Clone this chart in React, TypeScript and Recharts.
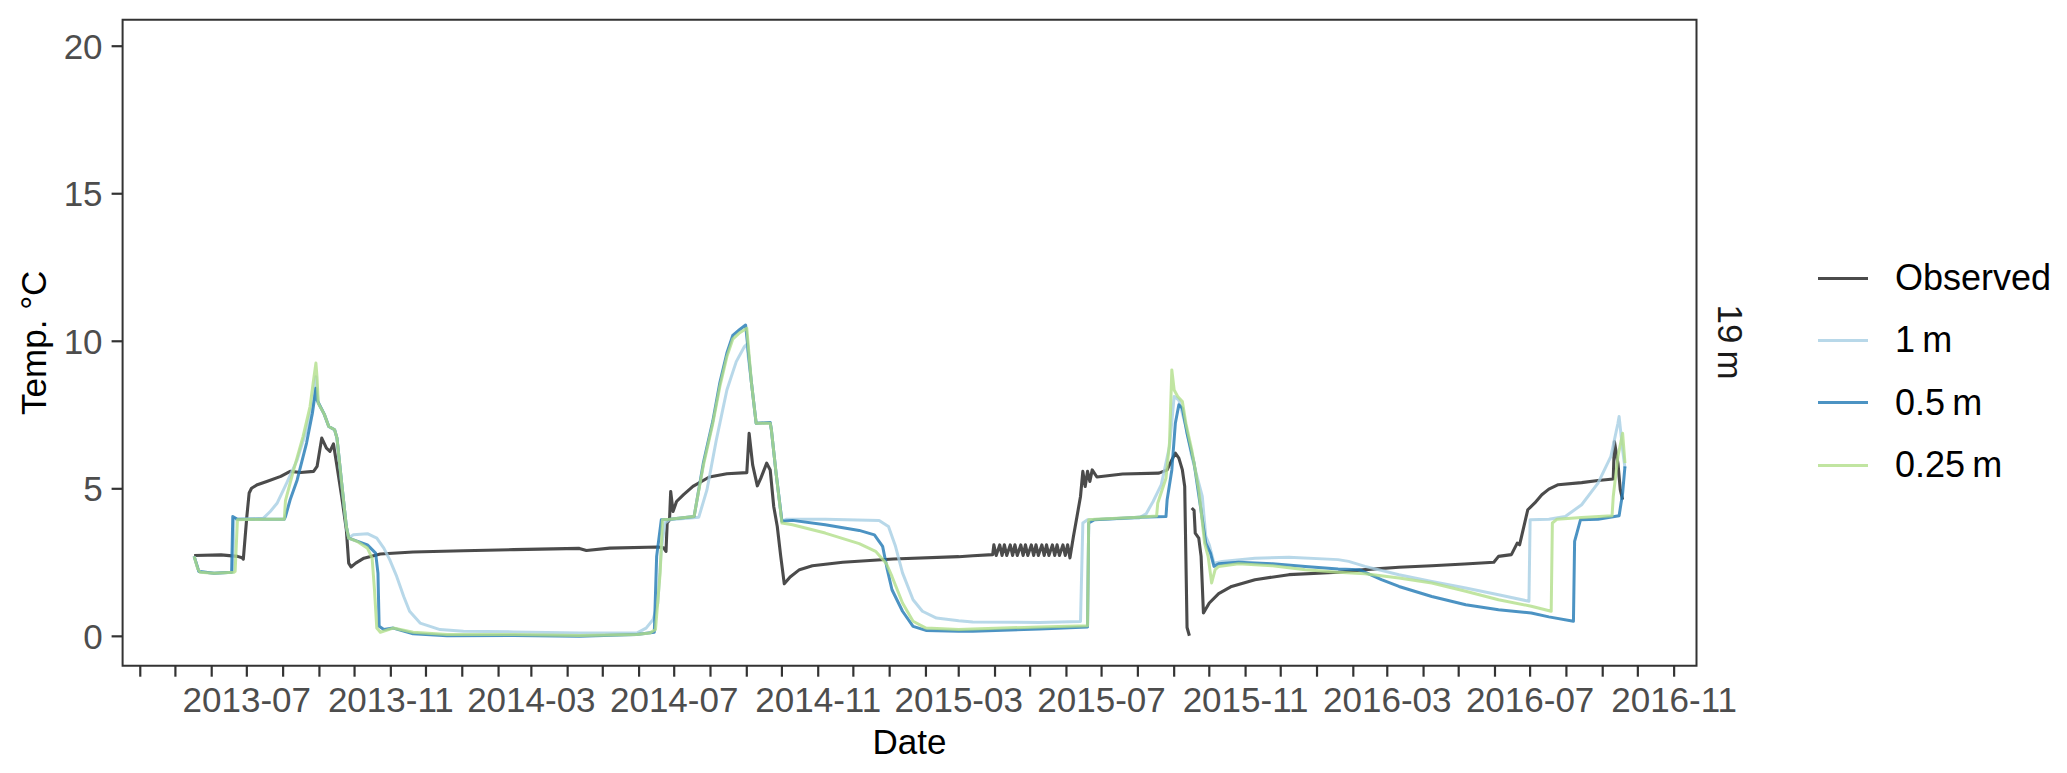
import React from 'react';
import { LineChart, Line, XAxis, YAxis, ReferenceArea } from 'recharts';

// ---------- data ----------
const obsDates = [
  '2013-05-17','2013-06-09','2013-06-23','2013-06-27','2013-06-28','2013-07-01','2013-07-03','2013-07-05','2013-07-10','2013-07-18',
  '2013-07-30','2013-08-07','2013-08-16','2013-08-27','2013-08-30','2013-09-03','2013-09-07','2013-09-10','2013-09-13','2013-09-16',
  '2013-09-20','2013-09-24','2013-09-26','2013-09-28','2013-10-02','2013-10-09','2013-10-23','2013-11-20','2014-01-02','2014-02-14',
  '2014-04-11','2014-04-17','2014-05-07','2014-06-17','2014-06-22','2014-06-24','2014-06-25','2014-06-27','2014-06-28','2014-06-30',
  '2014-07-03','2014-07-09','2014-07-17','2014-07-31','2014-08-15','2014-09-01','2014-09-03','2014-09-06','2014-09-10','2014-09-13',
  '2014-09-18','2014-09-21','2014-09-24','2014-09-27','2014-09-30','2014-10-03','2014-10-08','2014-10-16','2014-10-27','2014-11-22',
  '2015-01-04','2015-03-01','2015-03-13','2015-03-30',
  '2015-03-31','2015-04-02','2015-04-05','2015-04-07','2015-04-09','2015-04-11','2015-04-14','2015-04-16','2015-04-18','2015-04-20',
  '2015-04-23','2015-04-25','2015-04-27','2015-04-29','2015-05-02','2015-05-04','2015-05-06','2015-05-08','2015-05-11','2015-05-13',
  '2015-05-15','2015-05-17','2015-05-20','2015-05-22','2015-05-24','2015-05-26','2015-05-29','2015-05-31','2015-06-02','2015-06-04',
  '2015-06-07','2015-06-10','2015-06-13','2015-06-15','2015-06-17','2015-06-19','2015-06-21','2015-06-23','2015-06-27','2015-07-19',
  '2015-08-19','2015-08-26','2015-08-30','2015-09-02','2015-09-05','2015-09-08','2015-09-10','2015-09-12','2015-09-14','2015-09-15',
  '2015-09-16','2015-09-18','2015-09-19','2015-09-22','2015-09-24','2015-09-26','2015-10-01','2015-10-09','2015-10-20','2015-11-09',
  '2015-12-08','2016-01-19','2016-02-11','2016-03-11','2016-04-08','2016-05-06','2016-05-31','2016-06-04','2016-06-15','2016-06-20',
  '2016-06-22','2016-06-25','2016-06-29','2016-07-05','2016-07-11','2016-07-17','2016-07-25','2016-08-14','2016-08-28','2016-09-10',
  '2016-09-11','2016-09-14','2016-09-16','2016-09-18',
];
const obsTemps: (number | null)[] = [
  2.74, 2.76, 2.71, 2.66, 2.62, 4.06, 4.86, 5.02, 5.14, 5.25,
  5.42, 5.59, 5.55, 5.59, 5.76, 6.72, 6.38, 6.27, 6.52, 5.76,
  4.74, 3.61, 2.48, 2.35, 2.48, 2.65, 2.79, 2.86, 2.90, 2.94,
  2.98, 2.91, 2.99, 3.03, 3.00, 2.88, 3.84, 3.95, 4.91, 4.23,
  4.57, 4.80, 5.08, 5.40, 5.51, 5.55, 6.88, 5.81, 5.10, 5.36,
  5.87, 5.64, 4.40, 3.73, 2.71, 1.78, 2.01, 2.26, 2.39, 2.51,
  2.62, 2.70, 2.73, 2.77,
  3.10, 2.74, 3.10, 2.74, 3.10, 2.74, 3.10, 2.74, 3.10, 2.74,
  3.10, 2.74, 3.10, 2.74, 3.10, 2.74, 3.10, 2.74, 3.10, 2.74,
  3.10, 2.74, 3.10, 2.74, 3.10, 2.74, 3.10, 2.74, 3.10, 2.66,
  3.39, 4.06, 4.74, 5.59, 5.08, 5.59, 5.25, 5.64, 5.40, 5.50,
  5.53, 5.64, 5.98, 6.21, 6.04, 5.64, 5.08, 0.30, 0.02, null,
  4.35, 4.27, 3.50, 3.33, 2.71, 0.79, 1.13, 1.45, 1.69, 1.92,
  2.09, 2.17, 2.26, 2.34, 2.39, 2.45, 2.51, 2.71, 2.77, 3.16,
  3.10, 3.61, 4.29, 4.52, 4.80, 4.99, 5.14, 5.21, 5.28, 5.33,
  6.60, 5.87, 4.97, 4.63,
];

const m1Dates = [
  '2013-05-17','2013-05-21','2013-06-03','2013-06-19','2013-06-20','2013-06-23','2013-07-15','2013-07-21','2013-07-27','2013-08-04',
  '2013-08-13','2013-08-21','2013-08-27','2013-08-29','2013-08-31','2013-09-05','2013-09-09','2013-09-14','2013-09-16','2013-09-20',
  '2013-09-24','2013-09-26','2013-09-30','2013-10-12','2013-10-20','2013-10-26','2013-10-31','2013-11-06','2013-11-12','2013-11-17',
  '2013-11-26','2013-12-13','2014-01-02','2014-02-14','2014-04-11','2014-05-30','2014-06-07','2014-06-13','2014-06-17','2014-06-20',
  '2014-06-23','2014-06-27','2014-07-22','2014-07-29','2014-08-06','2014-08-15','2014-08-23','2014-08-30','2014-09-01','2014-09-05',
  '2014-09-09','2014-09-21','2014-09-22','2014-09-26','2014-10-01','2014-10-05','2014-11-07','2014-12-23','2014-12-31','2015-01-06',
  '2015-01-12','2015-01-21','2015-01-29','2015-02-10','2015-03-01','2015-03-13','2015-05-09','2015-06-13','2015-06-15','2015-06-19',
  '2015-08-02','2015-08-08','2015-08-14','2015-08-21','2015-08-28','2015-09-01','2015-09-05','2015-09-11','2015-09-16','2015-09-25',
  '2015-09-28','2015-10-01','2015-10-05','2015-10-12','2015-11-09','2015-12-08','2016-01-19','2016-01-28','2016-02-11','2016-03-11',
  '2016-04-08','2016-05-07','2016-06-04','2016-06-30','2016-07-01','2016-07-17','2016-07-31','2016-08-14','2016-08-28','2016-09-08',
  '2016-09-14','2016-09-15','2016-09-18','2016-09-20',
];
const m1Temps = [
  2.71, 2.20, 2.14, 2.17, 4.00, 3.97, 4.00, 4.23, 4.52, 5.19,
  5.98, 7.00, 8.01, 8.80, 7.90, 7.54, 7.11, 7.00, 6.72, 5.19,
  3.72, 3.33, 3.44, 3.48, 3.33, 2.99, 2.60, 2.03, 1.35, 0.85,
  0.45, 0.23, 0.17, 0.15, 0.11, 0.11, 0.28, 0.57, 1.13, 2.94,
  3.84, 3.95, 4.04, 4.97, 6.66, 8.35, 9.31, 9.82, 9.90, 8.58,
  7.22, 7.22, 7.00, 5.53, 3.90, 3.97, 3.97, 3.93, 3.72, 3.05,
  2.15, 1.24, 0.85, 0.62, 0.53, 0.49, 0.47, 0.50, 3.84, 3.95,
  4.01, 4.15, 4.57, 5.14, 6.43, 8.13, 8.01, 7.11, 6.10, 4.74,
  3.39, 3.10, 2.48, 2.54, 2.65, 2.68, 2.60, 2.54, 2.37, 2.09,
  1.86, 1.64, 1.41, 1.19, 3.95, 3.97, 4.06, 4.46, 5.19, 6.10,
  7.22, 7.45, 6.32, 5.70,
];

const m05Dates = [
  '2013-05-17','2013-05-21','2013-06-03','2013-06-18','2013-06-19','2013-06-23','2013-08-02','2013-08-03','2013-08-07','2013-08-13',
  '2013-08-21','2013-08-26','2013-08-29','2013-08-30','2013-09-01','2013-09-05','2013-09-09','2013-09-14','2013-09-16','2013-09-20',
  '2013-09-24','2013-09-26','2013-10-12','2013-10-19','2013-10-21','2013-10-22','2013-10-26','2013-11-03','2013-11-20','2013-12-19',
  '2014-02-14','2014-04-11','2014-05-30','2014-06-14','2014-06-16','2014-06-20','2014-06-27','2014-07-18','2014-07-20','2014-07-26',
  '2014-08-03','2014-08-09','2014-08-15','2014-08-20','2014-08-26','2014-08-31','2014-09-05','2014-09-09','2014-09-21','2014-09-22',
  '2014-09-26','2014-10-01','2014-10-10','2014-11-07','2014-12-06','2014-12-19','2014-12-26','2014-12-30','2015-01-03','2015-01-12',
  '2015-01-21','2015-02-01','2015-03-01','2015-03-13','2015-05-09','2015-06-19','2015-06-20','2015-06-25','2015-08-02','2015-08-25',
  '2015-08-26','2015-08-30','2015-09-02','2015-09-05','2015-09-08','2015-09-12','2015-09-18','2015-09-23','2015-09-28','2015-10-02',
  '2015-10-05','2015-10-09','2015-10-26','2015-11-24','2015-12-22','2016-01-19','2016-02-06','2016-02-25','2016-03-11','2016-04-08',
  '2016-05-07','2016-06-04','2016-07-02','2016-07-17','2016-08-07','2016-08-08','2016-08-13','2016-08-28','2016-09-15','2016-09-18',
  '2016-09-20',
];
const m05Temps = [
  2.71, 2.20, 2.14, 2.17, 4.06, 3.97, 3.97, 4.06, 4.63, 5.30,
  6.55, 7.56, 8.41, 8.01, 7.85, 7.54, 7.11, 7.00, 6.72, 5.19,
  3.72, 3.33, 3.10, 2.82, 2.14, 0.34, 0.23, 0.28, 0.09, 0.02,
  0.03, 0.00, 0.06, 0.14, 2.71, 3.95, 3.97, 4.06, 4.52, 5.90,
  7.30, 8.60, 9.60, 10.20, 10.40, 10.55, 8.58, 7.22, 7.25, 7.00,
  5.53, 3.90, 3.93, 3.78, 3.59, 3.44, 3.05, 2.26, 1.58, 0.85,
  0.34, 0.20, 0.17, 0.17, 0.25, 0.32, 3.84, 3.95, 4.04, 4.06,
  4.63, 5.64, 7.22, 7.85, 7.73, 6.88, 5.87, 4.52, 3.16, 2.82,
  2.37, 2.46, 2.51, 2.46, 2.37, 2.28, 2.26, 1.92, 1.69, 1.35,
  1.07, 0.90, 0.79, 0.66, 0.51, 3.22, 3.95, 3.97, 4.09, 4.85,
  5.76,
];

const m025Dates = [
  '2013-05-17','2013-05-20','2013-05-22','2013-06-03','2013-06-20','2013-06-21','2013-06-23','2013-07-15','2013-08-02','2013-08-03',
  '2013-08-10','2013-08-18','2013-08-24','2013-08-27','2013-08-29','2013-08-30','2013-08-31','2013-09-05','2013-09-09','2013-09-14',
  '2013-09-16','2013-09-20','2013-09-24','2013-09-26','2013-10-03','2013-10-12','2013-10-16','2013-10-18','2013-10-20','2013-10-23',
  '2013-11-03','2013-11-20','2013-12-19','2014-02-14','2014-04-11','2014-05-30','2014-06-10','2014-06-15','2014-06-19','2014-06-21',
  '2014-06-27','2014-07-18','2014-07-20','2014-07-26','2014-08-03','2014-08-09','2014-08-15','2014-08-20','2014-08-26','2014-09-01',
  '2014-09-05','2014-09-09','2014-09-21','2014-09-22','2014-09-26','2014-10-01','2014-10-10','2014-11-07','2014-12-06','2014-12-20',
  '2014-12-29','2015-01-03','2015-01-12','2015-01-21','2015-02-01','2015-03-01','2015-03-13','2015-05-09','2015-06-19','2015-06-20',
  '2015-06-26','2015-08-02','2015-08-17','2015-08-18','2015-08-25','2015-08-28','2015-08-30','2015-09-01','2015-09-04','2015-09-08',
  '2015-09-11','2015-09-16','2015-09-22','2015-09-27','2015-09-30','2015-10-03','2015-10-06','2015-10-09','2015-10-26','2015-11-24',
  '2015-12-22','2016-01-19','2016-02-11','2016-03-11','2016-04-08','2016-05-07','2016-06-04','2016-07-02','2016-07-19','2016-07-20',
  '2016-07-24','2016-08-14','2016-09-09','2016-09-10','2016-09-14','2016-09-18','2016-09-20',
];
const m025Temps = [
  2.71, 2.30, 2.17, 2.14, 2.17, 2.20, 3.95, 3.97, 3.97, 4.60,
  5.64, 6.77, 7.79, 8.69, 9.26, 8.75, 7.90, 7.54, 7.11, 7.00,
  6.72, 5.19, 3.72, 3.33, 3.22, 2.99, 2.65, 1.58, 0.28, 0.14,
  0.28, 0.14, 0.06, 0.06, 0.03, 0.06, 0.11, 0.23, 2.15, 3.95,
  3.97, 4.06, 4.52, 5.81, 7.22, 8.47, 9.48, 10.07, 10.29, 10.44,
  8.58, 7.22, 7.22, 7.00, 5.53, 3.84, 3.78, 3.50, 3.14, 2.88,
  2.48, 2.03, 1.13, 0.51, 0.28, 0.23, 0.25, 0.32, 0.36, 3.95,
  3.97, 4.04, 4.08, 4.52, 5.36, 6.55, 9.03, 8.35, 8.13, 7.96,
  7.22, 6.32, 4.97, 3.16, 2.71, 1.81, 2.26, 2.37, 2.46, 2.39,
  2.26, 2.17, 2.12, 1.98, 1.81, 1.53, 1.24, 1.02, 0.85, 3.84,
  3.97, 4.03, 4.09, 4.74, 6.10, 6.88, 5.87,
];

const tickMonths = [
  '2013-04','2013-05','2013-06','2013-07','2013-08','2013-09','2013-10','2013-11','2013-12',
  '2014-01','2014-02','2014-03','2014-04','2014-05','2014-06','2014-07','2014-08','2014-09','2014-10','2014-11','2014-12',
  '2015-01','2015-02','2015-03','2015-04','2015-05','2015-06','2015-07','2015-08','2015-09','2015-10','2015-11','2015-12',
  '2016-01','2016-02','2016-03','2016-04','2016-05','2016-06','2016-07','2016-08','2016-09','2016-10','2016-11',
];
const labeledMonths = [
  '2013-07','2013-11','2014-03','2014-07','2014-11','2015-03','2015-07','2015-11','2016-03','2016-07','2016-11',
];
const yTicks = [0, 5, 10, 15, 20];
const yLimits = [0, 19.9];

const seriesNames = ['Observed', '1\u2009m', '0.5\u2009m', '0.25\u2009m'];
const seriesColors = ['#1e1e1e', '#a6cee3', '#1f78b4', '#b2df8a'];
const seriesWidths = [3.1, 3, 3, 3];
const stripLabel = '19\u2009m';

// ---------- helpers ----------
const toTs = (d: string) => Date.parse(d.length === 7 ? d + '-01T00:00:00Z' : d + 'T00:00:00Z');
const build = (dates: string[], temps: (number | null)[]) =>
  dates.map((d, i) => ({ date: toTs(d), temp: temps[i] }));

const obsData = build(obsDates, obsTemps);
const m1Data = build(m1Dates, m1Temps);
const m05Data = build(m05Dates, m05Temps);
const m025Data = build(m025Dates, m025Temps);
const seriesData = [obsData, m1Data, m05Data, m025Data];

const allTs = seriesData.flat().map((p) => p.date);
const xMin = Math.min(...allTs);
const xMax = Math.max(...allTs);
const xPad = (xMax - xMin) * 0.05;
const xDomain: [number, number] = [xMin - xPad, xMax + xPad];
const yPad = (yLimits[1] - yLimits[0]) * 0.05;
const yDomain: [number, number] = [yLimits[0] - yPad, yLimits[1] + yPad];

const xTicks = tickMonths.map(toTs);
const labeledSet = new Set(labeledMonths.map(toTs));
const fmtX = (v: number) => {
  if (!labeledSet.has(v)) return '';
  const d = new Date(v);
  return `${d.getUTCFullYear()}-${String(d.getUTCMonth() + 1).padStart(2, '0')}`;
};

const FONT = '"Liberation Sans", Arial, Helvetica, sans-serif';
const W = 2067;
const H = 773;

export default function App() {
  return (
    <div style={{ position: 'absolute', left: 0, top: 0, width: W, height: H, background: '#fff', fontFamily: FONT }}>
      <LineChart
        width={W}
        height={H}
        margin={{ top: 19.8, right: 370.5, left: 0, bottom: 0.3 }}
        style={{ fontFamily: FONT }}
      >
        <XAxis
          dataKey="date"
          type="number"
          domain={xDomain}
          allowDataOverflow
          ticks={xTicks}
          interval={0}
          tickFormatter={fmtX}
          height={107}
          axisLine={false}
          tickSize={11}
          tickMargin={10}
          tickLine={{ stroke: '#333333', strokeWidth: 2.2 }}
          tick={{ fill: '#4d4d4d', fontSize: 35, fontFamily: FONT }}
          label={{
            content: (props: any) => {
              const vb = props.viewBox || { x: 0, width: 0 };
              return (
                <text x={vb.x + vb.width / 2} y={754} textAnchor="middle" fontSize={35} fill="#000" fontFamily={FONT}>
                  Date
                </text>
              );
            },
          }}
        />
        <YAxis
          type="number"
          domain={yDomain}
          allowDataOverflow
          ticks={yTicks}
          interval={0}
          width={122.6}
          axisLine={false}
          tickSize={11}
          tickMargin={9}
          tickLine={{ stroke: '#333333', strokeWidth: 2.2 }}
          tick={{ fill: '#4d4d4d', fontSize: 35, fontFamily: FONT }}
          label={{
            content: (props: any) => {
              const vb = props.viewBox || { y: 0, height: 0 };
              const cy = vb.y + vb.height / 2;
              return (
                <text
                  x={33}
                  y={cy}
                  transform={`rotate(-90, 33, ${cy})`}
                  textAnchor="middle"
                  dominantBaseline="central"
                  fontSize={35}
                  fill="#000"
                  fontFamily={FONT}
                >
                  Temp. °C
                </text>
              );
            },
          }}
        />
        {seriesData.map((data, i) => (
          <Line
            key={seriesNames[i]}
            data={data}
            dataKey="temp"
            name={seriesNames[i]}
            type="linear"
            stroke={seriesColors[i]}
            strokeOpacity={0.8}
            strokeWidth={seriesWidths[i]}
            strokeLinejoin="round"
            dot={false}
            activeDot={false}
            connectNulls={false}
            isAnimationActive={false}
          />
        ))}
        <ReferenceArea
          x1={xDomain[0]}
          x2={xDomain[1]}
          y1={yDomain[0]}
          y2={yDomain[1]}
          fill="none"
          fillOpacity={0}
          stroke="#333333"
          strokeWidth={2}
          strokeOpacity={1}
          ifOverflow="visible"
        />
      </LineChart>

      {/* facet strip label */}
      <div
        style={{
          position: 'absolute',
          left: 1730,
          top: 342,
          transform: 'translate(-50%, -50%) rotate(90deg)',
          fontSize: 35,
          color: '#1a1a1a',
          whiteSpace: 'nowrap',
          lineHeight: 1,
        }}
      >
        {stripLabel}
      </div>

      {/* legend */}
      <div style={{ position: 'absolute', left: 1818, top: 247, fontSize: 36, color: '#000' }}>
        {seriesNames.map((n, i) => (
          <div key={n} style={{ display: 'flex', alignItems: 'center', height: 62.3 }}>
            <div style={{ width: 50, height: 3, background: seriesColors[i], opacity: 0.8 }} />
            <div style={{ marginLeft: 27, lineHeight: 1, whiteSpace: 'nowrap' }}>{n}</div>
          </div>
        ))}
      </div>
    </div>
  );
}
